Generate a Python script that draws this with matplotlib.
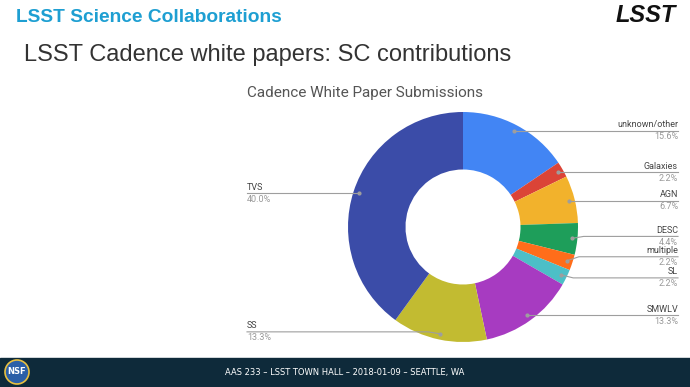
import matplotlib
matplotlib.use("Agg")
import matplotlib.pyplot as plt
from matplotlib.patches import Circle, Rectangle
import numpy as np

# data
categories = ["unknown/other", "Galaxies", "AGN", "DESC", "multiple", "SL", "SMWLV", "SS", "TVS"]
counts = [7, 1, 3, 2, 1, 1, 6, 6, 18]
colors = ["#4285F4", "#DB4437", "#F2B22C", "#1E9E5A", "#FF6D1A", "#4CBFC7",
          "#A73BC1", "#C2BB31", "#3B4CA8"]

W, H = 690, 387


def Y(y):
    # image-style y (top down) -> axes y (bottom up)
    return H - y


fig = plt.figure(figsize=(6.9, 3.87), dpi=100)
ax = fig.add_axes([0, 0, 1, 1])

# donut
cx, cy, R = 463, Y(227), 115
wedges, _ = ax.pie(counts, colors=colors, startangle=90, counterclock=False,
                   center=(cx, cy), radius=R,
                   wedgeprops=dict(width=R * 0.5, edgecolor="none"))
ax.set_xlim(0, W)
ax.set_ylim(0, H)
ax.set_aspect("auto")
ax.axis("off")

# label layout: vertical nudges of the leader line relative to the dot (px)
nudge = {"DESC": 2, "multiple": 4, "SL": -3, "SS": 2}
line_col = "#9E9E9E"
total = sum(counts)
for w, name, n in zip(wedges, categories, counts):
    mid = np.deg2rad((w.theta1 + w.theta2) / 2)
    dx = cx + 0.95 * R * np.cos(mid)
    dy = cy + 0.95 * R * np.sin(mid)
    ly = dy + nudge.get(name, 0)
    pct = f"{100 * n / total:.1f}%"
    ax.plot(dx, dy, "o", ms=2, color=line_col, zorder=5)
    if np.cos(mid) >= 0:
        xe, ha = 678, "right"
        ax.plot([dx, dx + 12, xe], [dy, ly, ly], color=line_col, lw=0.8)
    else:
        xe, ha = 247, "left"
        ax.plot([dx, dx - 12, xe], [dy, ly, ly], color=line_col, lw=0.8)
    ax.text(xe, ly + 1.5, name, ha=ha, va="bottom", fontsize=6.5,
            family="Roboto", color="#444444")
    ax.text(xe, ly - 1.5, pct, ha=ha, va="top", fontsize=6.5,
            family="Roboto", color="#999999")

ax.text(247, Y(93), "Cadence White Paper Submissions", ha="left", va="center",
        fontsize=11, family="Roboto", color="#555555")

# slide decoration
ax.text(16, Y(17), "LSST Science Collaborations", ha="left", va="center",
        fontsize=13.8, fontweight="bold", family="Liberation Sans", color="#1E9FD2")
ax.text(24, Y(55), "LSST Cadence white papers: SC contributions", ha="left",
        va="center", fontsize=17, family="Liberation Sans", color="#333333")
ax.text(676, Y(16), "LSST", ha="right", va="center", fontsize=17,
        fontweight="bold", style="italic", family="Liberation Sans", color="#111111")

ax.add_patch(Rectangle((0, 0), W, Y(358), color="#0E2A3A", zorder=1))
ax.add_patch(Circle((17, Y(372)), 12, facecolor="#2B5FA8", edgecolor="#E8C040",
                    lw=1.2, zorder=2))
ax.text(17, Y(372), "NSF", ha="center", va="center", fontsize=6,
        fontweight="bold", color="white", zorder=3)
ax.text(345, Y(372), "AAS 233 – LSST TOWN HALL – 2018-01-09 – SEATTLE, WA",
        ha="center", va="center", fontsize=6, family="Liberation Sans Narrow",
        color="white", zorder=3)

fig.savefig("out.png", dpi=100)
